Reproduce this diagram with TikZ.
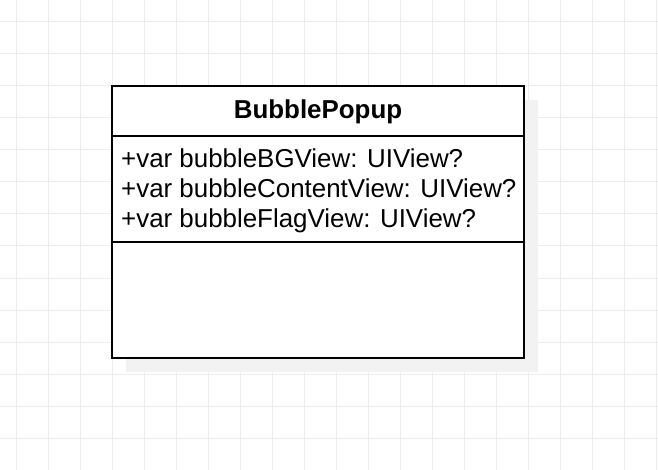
\documentclass[tikz,border=0pt]{standalone}
\usepackage{fontspec}
\setmainfont{Liberation Sans}
\definecolor{gridgray}{RGB}{236,236,236}
\definecolor{shadowgray}{RGB}{242,242,242}
\begin{document}
\begin{tikzpicture}[x=1pt,y=-1pt,
	gridline/.style={draw=gridgray,line width=1pt},
	umltext/.style={inner sep=0pt,font=\fontsize{25.9}{30}\selectfont}]
	\useasboundingbox (0,0) rectangle (658,470);
	% Define the grid
	\foreach \x in {0,...,20} \draw[gridline] (16+32*\x,0) -- ++(0,470);
	\foreach \y in {0,...,13} \draw[gridline] (0,22+32*\y) -- ++(658,0);
	% Shadow and class box
	\fill[shadowgray] (126,100) rectangle (538,372);
	\draw[fill=white,line width=2pt] (112,86) rectangle (524,358);
	\draw[line width=2pt] (112,136) -- (524,136);
	\draw[line width=2pt] (112,242) -- (524,242);
	% Add labels to the class
	\node[umltext,font=\fontsize{25.9}{30}\selectfont\bfseries] (title) at (318,111.5) {BubblePopup};
	\node[umltext,anchor=base west] (attrBG) at (121,168) {+var bubbleBGView: UIView?};
	\node[umltext,anchor=base west] (attrContent) at (121,198) {+var bubbleContentView: UIView?};
	\node[umltext,anchor=base west] (attrFlag) at (121,228) {+var bubbleFlagView: UIView?};
\end{tikzpicture}
\end{document}
